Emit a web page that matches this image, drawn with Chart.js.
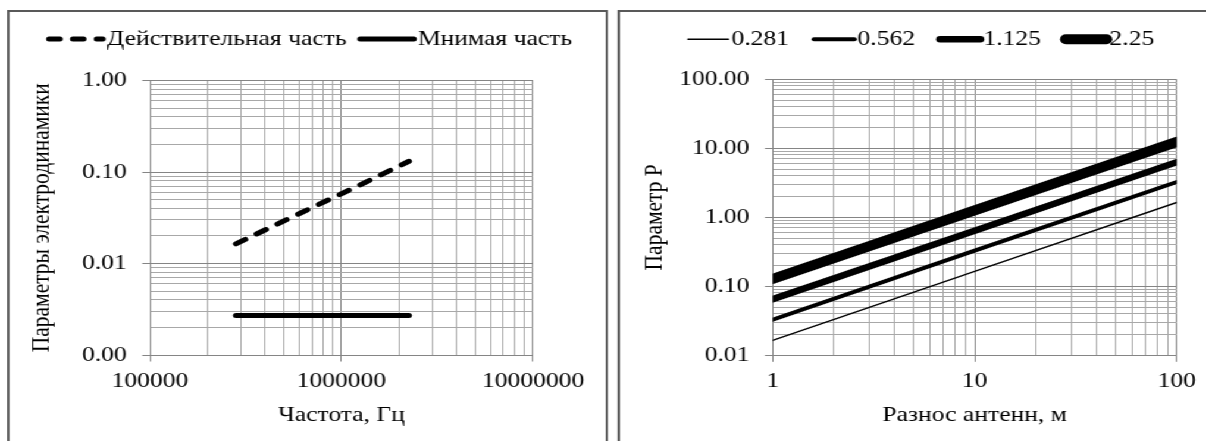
<!DOCTYPE html>
<html><head><meta charset="utf-8">
<script src="https://cdn.jsdelivr.net/npm/chart.js@4.4.1/dist/chart.umd.min.js"></script>
<style>
html,body{margin:0;padding:0;background:#fff;overflow:hidden;width:1206px;height:441px}
#stage{position:absolute;left:0;top:0;width:1030px;height:441px;transform:scaleX(1.19);transform-origin:0 0}
.panel{position:absolute;top:10px;height:470px;border:2px solid #595959;box-sizing:border-box}
canvas{position:absolute}
</style></head><body>
<div id="stage">
  <div class="panel" style="left:6.2px;width:505.3px"></div>
  <div class="panel" style="left:519.1px;width:505.3px"></div>
  <canvas id="c1" width="501" height="429" style="left:8px;top:12px"></canvas>
  <canvas id="c2" width="501" height="429" style="left:521px;top:12px"></canvas>
</div>
<script>
// ---------- data (left chart) ----------
const freqHz = [281000, 562000, 1125000, 2250000];
const realPart = [0.0164, 0.0328, 0.065, 0.131];
const imagPart = [0.0027, 0.0027, 0.0027, 0.0027];
const leftSeriesLabels = ['Действительная часть', 'Мнимая часть'];
const leftXMajor = [100000, 1000000, 10000000];
const leftXTickLabels = ['100000', '1000000', '10000000'];
const leftYMajor = [0.001, 0.01, 0.1, 1];
const leftYTickLabels = ['0.00', '0.01', '0.10', '1.00'];

// ---------- data (right chart) ----------
const distanceM = [1, 10, 100];
const p0281 = [0.0164, 0.164, 1.64];
const p0562 = [0.0328, 0.328, 3.25];
const p1125 = [0.065, 0.64, 6.3];
const p225 = [0.128, 1.26, 12.4];
const rightSeriesLabels = ['0.281', '0.562', '1.125', '2.25'];
const rightXMajor = [1, 10, 100];
const rightXTickLabels = ['1', '10', '100'];
const rightYMajor = [0.01, 0.1, 1, 10, 100];
const rightYTickLabels = ['0.01', '0.10', '1.00', '10.00', '100.00'];

const minorMultipliers = [2, 3, 4, 5, 6, 7, 8, 9];

// ---------- helpers ----------
const FONT = {family: "'Liberation Serif', 'Times New Roman', serif", size: 21.5};
const FONT_CSS = "21.5px 'Liberation Serif', 'Times New Roman', serif";
const TEXT = '#000';
const MAJOR = '#858585';
const MINOR = '#a8a8a8';

function buildLogTicks(majors) {
  const t = [];
  majors.forEach((m, i) => {
    t.push({value: m, major: true});
    if (i < majors.length - 1) minorMultipliers.forEach(k => t.push({value: +(m * k).toPrecision(6), major: false}));
  });
  return t;
}
function labelFor(majors, labels) {
  return (v) => {
    const i = majors.findIndex(m => Math.abs(m - v) / m < 1e-6);
    return i >= 0 ? labels[i] : '';
  };
}
function pts(xs, ys) { return xs.map((x, i) => ({x, y: ys[i]})); }

const legendPlugin = {
  id: 'lineLegend',
  afterDraw(chart, args, o) {
    const ctx = chart.ctx;
    ctx.save();
    ctx.font = FONT_CSS;
    ctx.textBaseline = 'middle';
    const items = chart.data.datasets.map(ds => ({
      label: ds.label, w: ctx.measureText(ds.label).width,
      lw: ds.borderWidth, dash: ds.borderDash || []
    }));
    let total = 0;
    items.forEach((it, i) => { total += (i ? o.itemGap : 0) + o.lineLen + o.textGap + it.w; });
    let x = o.centerX - total / 2;
    items.forEach((it, i) => {
      if (i) x += o.itemGap;
      ctx.beginPath();
      ctx.setLineDash(it.dash);
      ctx.lineCap = 'round';
      ctx.lineWidth = it.lw;
      ctx.strokeStyle = '#000';
      ctx.moveTo(x, o.y);
      ctx.lineTo(x + o.lineLen, o.y);
      ctx.stroke();
      ctx.setLineDash([]);
      x += o.lineLen + o.textGap;
      ctx.fillStyle = TEXT;
      ctx.fillText(it.label, x, o.y + o.textDy);
      x += it.w;
    });
    ctx.restore();
  }
};

function logAxis(opts) {
  const horizontal = opts.horizontal;
  return {
    type: 'logarithmic',
    min: opts.majors[0], max: opts.majors[opts.majors.length - 1],
    afterBuildTicks: s => { s.ticks = buildLogTicks(opts.majors); },
    afterFit: s => {
      if (horizontal) s.height = opts.size; else s.width = opts.size;
      s.paddingLeft = 0; s.paddingRight = 0; s.paddingTop = 0; s.paddingBottom = 0;
    },
    ticks: {
      autoSkip: false, maxRotation: 0, minRotation: 0, padding: opts.tickPad,
      font: FONT, color: TEXT,
      callback: labelFor(opts.majors, opts.labels)
    },
    grid: {
      color: c => (c.tick && c.tick.major) ? MAJOR : MINOR,
      tickColor: c => (c.tick && c.tick.major) ? MAJOR : 'rgba(0,0,0,0)',
      tickLength: 6.5, lineWidth: 1, drawTicks: true
    },
    border: {display: true, color: MAJOR, width: 1},
    title: {display: true, text: opts.title, font: FONT, color: TEXT, padding: opts.titlePad}
  };
}

// ---------- left chart ----------
new Chart(document.getElementById('c1'), {
  type: 'line',
  data: {
    datasets: [
      {label: leftSeriesLabels[0], data: pts(freqHz, realPart), borderColor: '#000', borderWidth: 5,
       borderDash: [9, 11], borderCapStyle: 'round', pointRadius: 0, fill: false, tension: 0},
      {label: leftSeriesLabels[1], data: pts(freqHz, imagPart), borderColor: '#000', borderWidth: 5,
       borderCapStyle: 'round', pointRadius: 0, fill: false, tension: 0}
    ]
  },
  options: {
    responsive: false, animation: false, events: [], devicePixelRatio: 1,
    layout: {padding: {top: 68.5, right: 61.1, left: 0, bottom: 0}},
    plugins: {legend: {display: false}, tooltip: {enabled: false},
      lineLegend: {centerX: 253, y: 27, lineLen: 45, textGap: 3.5, itemGap: 11.5, textDy: 0}},
    scales: {
      x: logAxis({horizontal: true, majors: leftXMajor, labels: leftXTickLabels, size: 86, tickPad: 6.5,
                  title: 'Частота, Гц', titlePad: {top: 0, bottom: 13}}),
      y: logAxis({horizontal: false, majors: leftYMajor, labels: leftYTickLabels, size: 118.05, tickPad: 13,
                  title: 'Параметры электродинамики', titlePad: {top: 14, bottom: 0}})
    }
  },
  plugins: [legendPlugin]
});

// ---------- right chart ----------
const widths = [1.4, 4, 6.5, 10];
const rightData = [p0281, p0562, p1125, p225];
new Chart(document.getElementById('c2'), {
  type: 'line',
  data: {
    datasets: rightData.map((d, i) => ({
      label: rightSeriesLabels[i], data: pts(distanceM, d), borderColor: '#000', borderWidth: widths[i],
      borderCapStyle: 'round', pointRadius: 0, fill: false, tension: 0, clip: 0
    }))
  },
  options: {
    responsive: false, animation: false, events: [], devicePixelRatio: 1,
    layout: {padding: {top: 67.3, right: 33.2, left: 0, bottom: 0}},
    plugins: {legend: {display: false}, tooltip: {enabled: false},
      lineLegend: {centerX: 253, y: 27.3, lineLen: 34, textGap: 2.5, itemGap: 21, textDy: 0}},
    scales: {
      x: logAxis({horizontal: true, majors: rightXMajor, labels: rightXTickLabels, size: 85.7, tickPad: 6.5,
                  title: 'Разнос антенн, м', titlePad: {top: 0, bottom: 13}}),
      y: logAxis({horizontal: false, majors: rightYMajor, labels: rightYTickLabels, size: 128.3, tickPad: 13,
                  title: 'Параметр P', titlePad: {top: 16.8, bottom: 0}})
    }
  },
  plugins: [legendPlugin]
});
</script>
</body></html>
